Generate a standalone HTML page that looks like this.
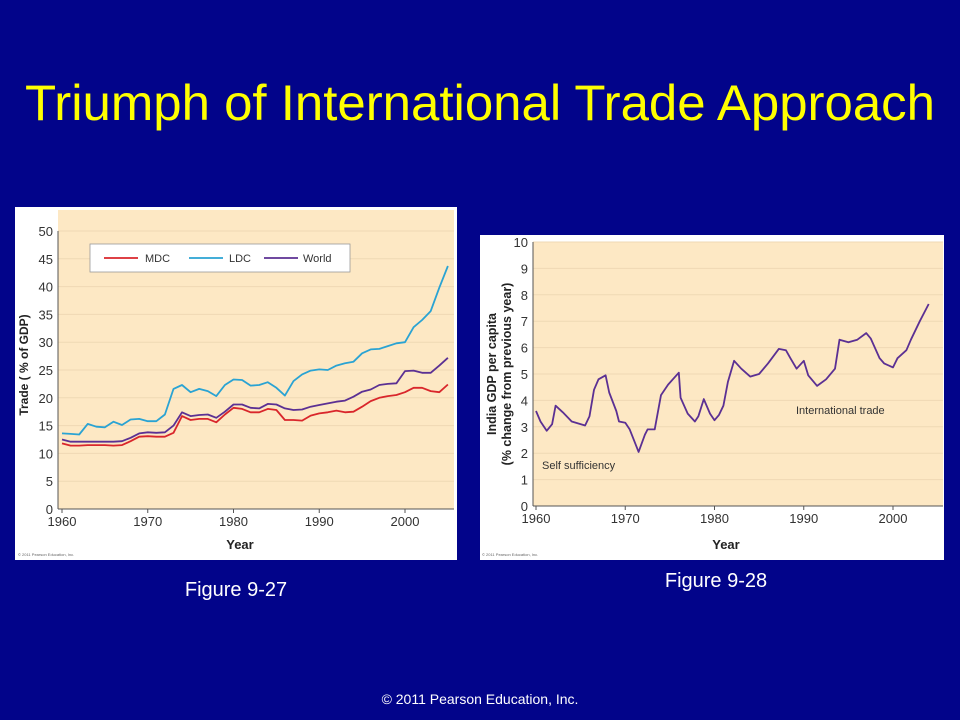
<!DOCTYPE html>
<html><head><meta charset="utf-8"><style>
html,body{margin:0;padding:0;background:#02048a;}
svg{display:block;font-family:"Liberation Sans",Arial,sans-serif;}
</style></head><body>
<svg id="s" width="960" height="720" viewBox="0 0 960 720" xmlns="http://www.w3.org/2000/svg">
<rect x="0" y="0" width="960" height="720" fill="#02048a"/>
<text x="25" y="120" font-size="50" fill="#ffff00" textLength="910" lengthAdjust="spacingAndGlyphs">Triumph of International Trade Approach</text>

<g>
<rect x="15" y="207" width="442" height="353" fill="#ffffff"/>
<rect x="58" y="210" width="396" height="299" fill="#fde8c4"/>
<g id="c1grid"></g>
<g id="c1lines"></g>
<rect x="90" y="244" width="260" height="28" fill="#fff" stroke="#999" stroke-width="0.8"/>
<g><line x1="104" y1="258" x2="138" y2="258" stroke="#d9262b" stroke-width="1.8"/><text x="145" y="262" font-size="11" fill="#333">MDC</text></g>
<g><line x1="189" y1="258" x2="223" y2="258" stroke="#2aa3d3" stroke-width="1.8"/><text x="229" y="262" font-size="11" fill="#333">LDC</text></g>
<g><line x1="264" y1="258" x2="298" y2="258" stroke="#5b3093" stroke-width="1.8"/><text x="303" y="262" font-size="11" fill="#333">World</text></g>
<text x="0" y="0" font-size="12" font-weight="bold" fill="#222" transform="translate(28,365) rotate(-90)" text-anchor="middle">Trade ( % of GDP)</text>
<text x="240" y="549" font-size="13" font-weight="bold" fill="#222" text-anchor="middle">Year</text>
<text x="18" y="556" font-size="4" fill="#666">© 2011 Pearson Education, Inc.</text>
</g>

<g>
<rect x="480" y="235" width="464" height="325" fill="#ffffff"/>
<rect x="533" y="242" width="410" height="264" fill="#fde8c4"/>
<g id="c2grid"></g>
<g id="c2lines"></g>
<text x="542" y="469" font-size="11" fill="#333">Self sufficiency</text>
<text x="796" y="414" font-size="11" fill="#333">International trade</text>
<text x="0" y="0" font-size="12.5" font-weight="bold" fill="#222" transform="translate(496,374) rotate(-90)" text-anchor="middle">India GDP per capita</text>
<text x="0" y="0" font-size="12.5" font-weight="bold" fill="#222" transform="translate(511,374) rotate(-90)" text-anchor="middle">(% change from previous year)</text>
<text x="726" y="549" font-size="13" font-weight="bold" fill="#222" text-anchor="middle">Year</text>
<text x="482" y="556" font-size="4" fill="#666">© 2011 Pearson Education, Inc.</text>
</g>

<text x="236" y="596" font-size="20" fill="#fff" text-anchor="middle">Figure 9-27</text>
<text x="716" y="587" font-size="20" fill="#fff" text-anchor="middle">Figure 9-28</text>
<text x="480" y="704" font-size="14" fill="#fff" text-anchor="middle">© 2011 Pearson Education, Inc.</text>
</svg>
<script>
// Chart 1 data
const c1Years = [];
for (let y = 1960; y <= 2005; y++) c1Years.push(y);
const mdcValues = [11.8,11.4,11.4,11.5,11.5,11.5,11.4,11.5,12.2,13,13.1,13,13,13.7,16.7,16,16.2,16.2,15.6,17,18.2,18,17.4,17.4,18,17.8,16,16,15.9,16.8,17.2,17.4,17.7,17.4,17.5,18.4,19.4,20,20.3,20.5,21,21.8,21.8,21.2,21,22.4];
const worldValues = [12.5,12.1,12.1,12.1,12.1,12.1,12.1,12.2,12.8,13.6,13.8,13.7,13.8,15,17.4,16.7,16.9,17,16.4,17.5,18.8,18.8,18.2,18.1,18.9,18.8,18.1,17.8,17.9,18.4,18.7,19,19.3,19.5,20.2,21.1,21.5,22.3,22.5,22.6,24.8,24.9,24.5,24.5,25.8,27.2];
const ldcValues = [13.6,13.5,13.4,15.3,14.8,14.7,15.7,15.1,16.1,16.2,15.8,15.8,17,21.6,22.3,21,21.6,21.2,20.3,22.3,23.3,23.2,22.2,22.3,22.8,21.8,20.4,23,24.2,24.9,25.1,25,25.8,26.2,26.5,28,28.7,28.8,29.3,29.8,30,32.7,34,35.6,39.8,43.7];
const c1YTicks = [0,5,10,15,20,25,30,35,40,45,50];
const c1XTicks = [1960,1970,1980,1990,2000];
// Chart 2 data
const indiaYears = [1960,1960.5,1961.2,1961.8,1962.2,1963,1964,1965.5,1966,1966.5,1967,1967.8,1968.2,1969,1969.3,1970,1970.5,1971.5,1972.2,1972.5,1973.3,1974,1974.8,1976,1976.2,1977,1977.8,1978.2,1978.8,1979.5,1980,1980.5,1981,1981.5,1982.2,1983,1984,1985,1986,1987.2,1988,1988.5,1989.2,1990,1990.5,1991.5,1992.5,1993.5,1994,1995,1996,1997,1997.5,1998.5,1999,2000,2000.5,2001.5,2002,2003,2004];
const indiaValues = [3.6,3.2,2.85,3.1,3.8,3.55,3.2,3.05,3.4,4.4,4.8,4.95,4.3,3.6,3.2,3.15,2.9,2.05,2.7,2.9,2.9,4.2,4.6,5.05,4.1,3.5,3.2,3.4,4.05,3.5,3.25,3.45,3.8,4.7,5.5,5.2,4.9,5.0,5.4,5.95,5.9,5.6,5.2,5.5,4.95,4.55,4.8,5.2,6.3,6.2,6.3,6.55,6.35,5.6,5.4,5.25,5.6,5.9,6.3,7.0,7.65];
const c2YTicks = [0,1,2,3,4,5,6,7,8,9,10];
const c2XTicks = [1960,1970,1980,1990,2000];

const NS = "http://www.w3.org/2000/svg";
function mk(tag, attrs, parent){const e=document.createElementNS(NS,tag);for(const k in attrs)e.setAttribute(k,attrs[k]);parent.appendChild(e);return e;}

const x1 = v => 62 + (v-1960)*8.575;
const y1 = v => 509 - v*5.56;
const x2 = v => 536 + (v-1960)*8.925;
const y2 = v => 506 - v*26.4;

function axes(gid, xs, ys, xT, yT, left, right, bottom, pre){
  const g=document.getElementById(gid);
  yT.forEach(t=>{
    if(t>0){const l=mk('line',{x1:left,x2:right,y1:ys(t),y2:ys(t),stroke:'#efd9b4','stroke-width':1},g);
    
    }
    const tx=mk('text',{x:left-5,y:ys(t)+5,'font-size':13,fill:'#333','text-anchor':'end'},g);
    tx.textContent=t;
    
    
  });
  const ax=mk('line',{x1:left,x2:left,y1:ys(yT[yT.length-1]),y2:bottom,stroke:'#555','stroke-width':1},g);
  
  
  const bx=mk('line',{x1:left,x2:right,y1:bottom,y2:bottom,stroke:'#555','stroke-width':1},g);
  
  
  xT.forEach(t=>{
    const tk=mk('line',{x1:xs(t),x2:xs(t),y1:bottom,y2:bottom+4,stroke:'#555'},g);
    
    
    const tx=mk('text',{x:xs(t),y:bottom+17,'font-size':13,fill:'#333','text-anchor':'middle'},g);
    tx.textContent=t;
    
    
  });
}
axes('c1grid',x1,y1,c1XTicks,c1YTicks,58,454,509,'chart1');
axes('c2grid',x2,y2,c2XTicks,c2YTicks,533,943,506,'chart2');

function line(gid, xsArr, vals, xs, ys, color, name){
  const pts=vals.map((v,i)=>xs(xsArr[i]).toFixed(1)+','+ys(v).toFixed(1)).join(' ');
  const p=mk('polyline',{points:pts,fill:'none',stroke:color,'stroke-width':1.8,'stroke-linejoin':'round'},document.getElementById(gid));
  
  
}
line('c1lines',c1Years,ldcValues,x1,y1,'#2aa3d3','ldc-line');
line('c1lines',c1Years,worldValues,x1,y1,'#5b3093','world-line');
line('c1lines',c1Years,mdcValues,x1,y1,'#d9262b','mdc-line');
line('c2lines',indiaYears,indiaValues,x2,y2,'#5b3093','india-gdp-line');
</script>
</body></html>
